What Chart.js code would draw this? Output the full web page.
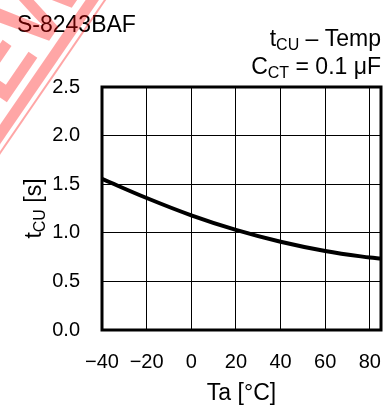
<!DOCTYPE html>
<html>
<head>
<meta charset="utf-8">
<script src="https://cdn.jsdelivr.net/npm/chart.js@4.4.1/dist/chart.umd.min.js"></script>
<style>
  html, body { margin: 0; padding: 0; background: #fff; }
  #wrap { width: 391px; height: 406px; }
</style>
</head>
<body>
<div id="wrap"><canvas id="chart" width="391" height="406"></canvas></div>
<script>
// temperature (°C) vs t_CU (s)
const temps  = [-40, -20, 0, 20, 40, 60, 80, 85];
const tcu    = [1.555, 1.358, 1.18, 1.03, 0.908, 0.813, 0.745, 0.735];
const xTicks = [-40, -20, 0, 20, 40, 60, 80];
const xTickLabels = ['\u221240', '\u221220', '0', '20', '40', '60', '80'];
const yTicks = [0, 0.5, 1.0, 1.5, 2.0, 2.5];

const FONT = '"Liberation Sans", Arial, sans-serif';

// draws text pieces with subscripts, starting at x
function drawParts(ctx, parts, x, y) {
  parts.forEach(p => {
    ctx.font = p.size + 'px ' + FONT;
    ctx.fillText(p.t, x, y + (p.dy || 0));
    x += ctx.measureText(p.t).width;
  });
}
function partsWidth(ctx, parts) {
  let w = 0;
  parts.forEach(p => { ctx.font = p.size + 'px ' + FONT; w += ctx.measureText(p.t).width; });
  return w;
}

const decorPlugin = {
  id: 'decor',
  afterDraw(chart) {
    const ctx = chart.ctx;
    const a = chart.chartArea;
    ctx.save();

    // thick frame round the plot
    ctx.strokeStyle = '#000';
    ctx.lineWidth = 3;
    ctx.strokeRect(a.left, a.top, a.right - a.left, a.bottom - a.top);

    ctx.fillStyle = '#000';
    ctx.textBaseline = 'alphabetic';
    ctx.textAlign = 'left';

    ctx.font = '23px ' + FONT;
    ctx.fillText('S-8243BAF', 17, 32);

    const cap1 = [{ t: 't', size: 23 }, { t: 'CU', size: 16, dy: 4 }, { t: ' \u2013 Temp', size: 23 }];
    const cap2 = [{ t: 'C', size: 23 }, { t: 'CT', size: 16, dy: 4 }, { t: ' = 0.1 \u03bcF', size: 23 }];
    drawParts(ctx, cap1, 381 - partsWidth(ctx, cap1), 46);
    drawParts(ctx, cap2, 381 - partsWidth(ctx, cap2), 74);

    ctx.font = '23px ' + FONT;
    ctx.textAlign = 'center';
    ctx.fillText('Ta [\u00b0C]', (a.left + a.right) / 2, 400);

    // y axis title, rotated
    ctx.save();
    ctx.translate(41, (a.top + a.bottom) / 2);
    ctx.rotate(-Math.PI / 2);
    ctx.textAlign = 'left';
    const yParts = [{ t: 't', size: 23 }, { t: 'CU', size: 16, dy: 4 }, { t: ' [s]', size: 23 }];
    drawParts(ctx, yParts, -partsWidth(ctx, yParts) / 2, 0);
    ctx.restore();

    // corner of a pink "NEW" stamp over the top-left
    ctx.save();
    ctx.fillStyle = 'rgba(255, 0, 0, 0.35)';
    ctx.strokeStyle = 'rgba(255, 0, 0, 0.35)';
    ctx.translate(0, 153);
    ctx.rotate(Math.atan2(-153, 105));
    ctx.lineWidth = 2;
    ctx.beginPath();
    ctx.moveTo(-20, 0);
    ctx.lineTo(220, 0);
    ctx.stroke();
    ctx.fillRect(-20, -16, 240, 11);
    ctx.font = 'bold 96px ' + FONT;
    ctx.textAlign = 'left';
    ctx.textBaseline = 'alphabetic';
    ctx.fillText('NEW', -30, -23);
    ctx.restore();

    ctx.restore();
  }
};

new Chart(document.getElementById('chart'), {
  type: 'line',
  data: {
    datasets: [{
      data: temps.map((t, i) => ({ x: t, y: tcu[i] })),
      borderColor: '#000',
      borderWidth: 4,
      pointRadius: 0,
      tension: 0.4,
      fill: false
    }]
  },
  options: {
    responsive: false,
    animation: false,
    layout: { padding: { left: 0, right: 10, top: 87, bottom: 0 } },
    plugins: { legend: { display: false }, tooltip: { enabled: false } },
    scales: {
      x: {
        type: 'linear',
        min: -40,
        max: 85,
        afterBuildTicks: s => { s.ticks = xTicks.map(v => ({ value: v })); },
        afterFit: s => { s.height = 76; s.paddingLeft = 0; s.paddingRight = 0; },
        grid: { color: '#000', lineWidth: 1, drawTicks: false },
        border: { display: false },
        ticks: {
          color: '#000',
          padding: 20,
          maxRotation: 0,
          font: { family: FONT, size: 20 },
          callback: v => xTickLabels[xTicks.indexOf(v)]
        }
      },
      y: {
        type: 'linear',
        min: 0,
        max: 2.5,
        afterBuildTicks: s => { s.ticks = yTicks.map(v => ({ value: v })); },
        afterFit: s => { s.width = 102; },
        grid: { color: '#000', lineWidth: 1, drawTicks: false },
        border: { display: false },
        ticks: {
          color: '#000',
          padding: 22,
          font: { family: FONT, size: 20 },
          callback: v => v.toFixed(1)
        }
      }
    }
  },
  plugins: [decorPlugin]
});
</script>
</body>
</html>
